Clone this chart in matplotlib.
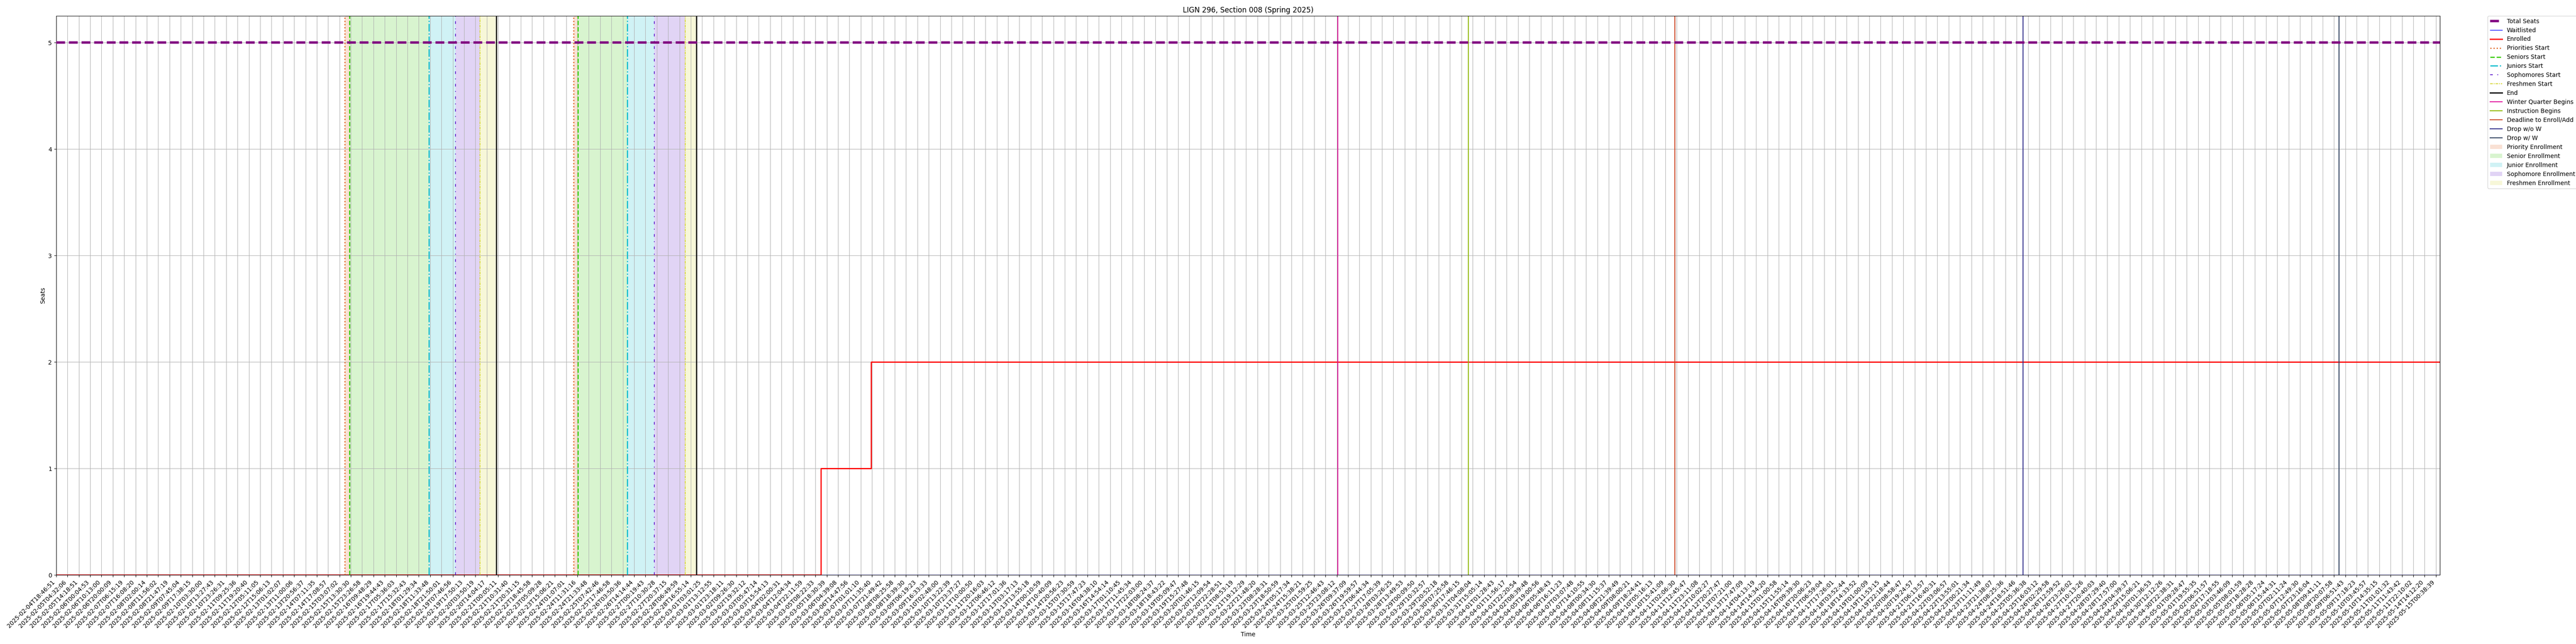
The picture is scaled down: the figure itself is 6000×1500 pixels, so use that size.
import numpy as np
import pandas as pd
import matplotlib
matplotlib.use("Agg")
import matplotlib.pyplot as plt

# sample timestamps shown as x tick labels (one every N scrapes)
tick_labels = [
    "2025-02-04T18:46:51", "2025-02-05T04:32:06", "2025-02-05T14:18:51", "2025-02-06T00:04:53",
    "2025-02-06T10:13:00", "2025-02-06T20:00:09", "2025-02-07T06:15:19", "2025-02-07T16:08:20",
    "2025-02-08T02:00:14", "2025-02-08T11:56:02", "2025-02-08T21:47:19", "2025-02-09T07:45:04",
    "2025-02-09T17:38:15", "2025-02-10T03:30:00", "2025-02-10T13:27:43", "2025-02-10T23:26:31",
    "2025-02-11T09:25:36", "2025-02-11T19:20:40", "2025-02-12T05:11:05", "2025-02-12T15:06:13",
    "2025-02-13T01:02:07", "2025-02-13T11:00:06", "2025-02-13T20:56:37", "2025-02-14T07:11:35",
    "2025-02-14T17:08:57", "2025-02-15T03:07:02", "2025-02-15T13:30:30", "2025-02-15T23:26:58",
    "2025-02-16T09:48:29", "2025-02-16T19:44:43", "2025-02-17T05:36:03", "2025-02-17T15:32:43",
    "2025-02-18T01:29:34", "2025-02-18T11:33:48", "2025-02-18T21:50:01", "2025-02-19T07:46:56",
    "2025-02-19T17:50:13", "2025-02-20T03:50:19", "2025-02-20T14:04:17", "2025-02-21T00:05:11",
    "2025-02-21T10:31:40", "2025-02-21T20:31:15", "2025-02-22T18:45:58", "2025-02-23T05:09:28",
    "2025-02-23T15:06:21", "2025-02-24T01:07:01", "2025-02-24T11:31:16", "2025-02-24T21:33:48",
    "2025-02-25T07:42:46", "2025-02-25T17:46:58", "2025-02-26T03:50:36", "2025-02-26T14:14:44",
    "2025-02-27T00:19:43", "2025-02-27T10:30:28", "2025-02-27T20:37:15", "2025-02-28T06:49:59",
    "2025-02-28T16:55:14", "2025-03-01T03:01:25", "2025-03-01T13:12:55", "2025-03-01T23:18:11",
    "2025-03-02T09:26:30", "2025-03-02T19:32:12", "2025-03-03T05:47:14", "2025-03-03T15:54:13",
    "2025-03-04T02:00:31", "2025-03-04T12:04:34", "2025-03-04T22:11:59", "2025-03-05T08:22:33",
    "2025-03-05T18:30:39", "2025-03-06T04:39:08", "2025-03-06T14:47:56", "2025-03-07T01:01:10",
    "2025-03-07T11:35:40", "2025-03-07T21:49:42", "2025-03-08T08:25:58", "2025-03-08T18:39:30",
    "2025-03-09T06:19:23", "2025-03-09T16:33:33", "2025-03-10T02:48:00", "2025-03-10T13:22:39",
    "2025-03-10T23:37:27", "2025-03-11T10:00:50", "2025-03-11T20:16:03", "2025-03-12T06:46:12",
    "2025-03-12T17:01:36", "2025-03-13T03:17:13", "2025-03-13T13:55:18", "2025-03-14T00:10:59",
    "2025-03-14T10:40:09", "2025-03-14T20:56:23", "2025-03-15T07:30:59", "2025-03-15T17:47:23",
    "2025-03-16T04:38:10", "2025-03-16T14:54:14", "2025-03-17T01:10:45", "2025-03-17T11:45:34",
    "2025-03-17T22:03:00", "2025-03-18T08:24:37", "2025-03-18T18:43:22", "2025-03-19T05:09:47",
    "2025-03-19T15:27:48", "2025-03-20T01:46:15", "2025-03-20T12:09:54", "2025-03-20T22:28:51",
    "2025-03-21T08:53:19", "2025-03-21T19:12:29", "2025-03-22T21:48:20", "2025-03-23T08:28:31",
    "2025-03-23T18:50:59", "2025-03-24T05:17:34", "2025-03-24T15:38:21", "2025-03-25T01:59:25",
    "2025-03-25T12:46:43", "2025-03-25T23:08:12", "2025-03-26T09:37:09", "2025-03-26T19:59:57",
    "2025-03-27T06:44:34", "2025-03-27T17:05:39", "2025-03-28T03:26:25", "2025-03-28T13:49:53",
    "2025-03-29T00:09:50", "2025-03-29T10:32:57", "2025-03-29T20:52:18", "2025-03-30T07:25:58",
    "2025-03-30T17:46:15", "2025-03-31T04:08:04", "2025-03-31T15:05:14", "2025-04-01T01:28:43",
    "2025-04-01T11:56:17", "2025-04-01T22:20:54", "2025-04-02T08:39:48", "2025-04-05T19:00:56",
    "2025-04-06T05:48:43", "2025-04-06T16:11:23", "2025-04-07T03:07:48", "2025-04-07T14:10:55",
    "2025-04-08T00:34:30", "2025-04-08T11:15:37", "2025-04-08T21:39:49", "2025-04-09T08:00:21",
    "2025-04-09T18:24:41", "2025-04-10T05:16:13", "2025-04-10T15:41:09", "2025-04-11T02:06:30",
    "2025-04-11T12:45:47", "2025-04-11T23:11:08", "2025-04-12T10:02:27", "2025-04-12T20:27:47",
    "2025-04-13T07:21:00", "2025-04-13T17:47:09", "2025-04-14T04:13:19", "2025-04-14T14:34:20",
    "2025-04-15T01:00:58", "2025-04-15T11:55:14", "2025-04-16T09:39:30", "2025-04-16T20:06:23",
    "2025-04-17T06:59:04", "2025-04-17T17:26:01", "2025-04-18T03:52:44", "2025-04-18T14:33:52",
    "2025-04-19T01:00:09", "2025-04-19T11:53:15", "2025-04-19T22:18:44", "2025-04-20T08:58:47",
    "2025-04-20T19:24:57", "2025-04-21T06:13:57", "2025-04-21T16:40:31", "2025-04-22T03:06:57",
    "2025-04-22T13:55:01", "2025-04-23T00:21:34", "2025-04-23T11:11:49", "2025-04-23T21:38:07",
    "2025-04-24T08:25:36", "2025-04-24T18:51:46", "2025-04-25T05:36:38", "2025-04-25T16:03:12",
    "2025-04-26T02:29:58", "2025-04-26T12:59:52", "2025-04-26T23:26:02", "2025-04-27T10:13:26",
    "2025-04-27T20:40:03", "2025-04-28T07:29:40", "2025-04-28T17:57:00", "2025-04-29T04:39:37",
    "2025-04-29T15:06:21", "2025-04-30T01:36:53", "2025-04-30T12:12:26", "2025-04-30T22:38:31",
    "2025-05-01T09:28:47", "2025-05-01T19:55:35", "2025-05-02T06:51:57", "2025-05-02T17:18:55",
    "2025-05-03T03:46:09", "2025-05-05T08:01:59", "2025-05-05T18:28:28", "2025-05-06T05:17:24",
    "2025-05-06T15:44:31", "2025-05-07T02:11:24", "2025-05-07T12:49:30", "2025-05-07T23:16:04",
    "2025-05-08T09:41:11", "2025-05-08T20:07:58", "2025-05-09T06:51:43", "2025-05-09T17:18:23",
    "2025-05-10T03:45:57", "2025-05-10T14:35:15", "2025-05-11T01:01:32", "2025-05-11T11:43:42",
    "2025-05-11T22:10:02", "2025-05-14T14:12:20", "2025-05-15T00:38:39",
]
last_sample = "2025-05-15T04:20:00"

total_seats = 5
waitlisted = 0
# enrolled count and the time it changed
enrolled_times = ["2025-02-04T18:46:51", "2025-03-05T13:14:00", "2025-03-07T10:32:00"]
enrolled_counts = [0, 1, 2]

# two enrollment passes
pass_starts = {
    "Priorities Start": ["2025-02-15T07:54", "2025-02-24T08:05"],
    "Seniors Start": ["2025-02-15T12:22", "2025-02-24T11:55"],
    "Juniors Start": ["2025-02-18T10:33", "2025-02-26T08:00"],
    "Sophomores Start": ["2025-02-19T10:11", "2025-02-27T08:28"],
    "Freshmen Start": ["2025-02-20T08:02", "2025-02-28T11:58"],
    "End": ["2025-02-20T22:23", "2025-02-28T21:58"],
}
quarter_events = {
    "Winter Quarter Begins": "2025-03-26T00:11",
    "Instruction Begins": "2025-03-31T00:18",
    "Deadline to Enroll/Add": "2025-04-11T00:33",
    "Drop w/o W": "2025-04-25T00:47",
    "Drop w/ W": "2025-05-09T00:50",
}
period_names = ["Priority Enrollment", "Senior Enrollment", "Junior Enrollment",
                "Sophomore Enrollment", "Freshmen Enrollment"]

start_styles = {
    "Priorities Start": ("#e26b2c", ":", 2),
    "Seniors Start": ("#3ccc12", "--", 2),
    "Juniors Start": ("#17becf", "-.", 2),
    "Sophomores Start": ("#6a2bd0", (0, (3, 5, 1, 5)), 1.5),
    "Freshmen Start": ("#d8d840", (0, (3, 1, 1, 1)), 1.5),
    "End": ("black", "-", 2),
}
event_colors = {
    "Winter Quarter Begins": "#e0109a",
    "Instruction Begins": "#8db600",
    "Deadline to Enroll/Add": "#cc4422",
    "Drop w/o W": "#2e2a8a",
    "Drop w/ W": "#2c3e5c",
}
period_colors = ["#e26b2c", "#3ccc12", "#17becf", "#6a2bd0", "#d8d840"]

# x axis is sample order, ticks every N samples -> map times onto that index
tick_s = pd.to_datetime(tick_labels).astype("int64").to_numpy() / 1e9
tick_idx = np.arange(len(tick_labels), dtype=float)


def to_pos(t):
    s = pd.Timestamp(t).value / 1e9
    if s <= tick_s[-1]:
        return float(np.interp(s, tick_s, tick_idx))
    return tick_idx[-1] + (s - tick_s[-1]) / (tick_s[-1] - tick_s[-2])


x_end = to_pos(last_sample)

fig, ax = plt.subplots(figsize=(60, 15), dpi=100)
fig.subplots_adjust(left=0.0218, right=0.9472, top=0.9753, bottom=0.1073)

# shaded periods between consecutive starts
keys = list(pass_starts.keys())
for p in range(2):
    for i, name in enumerate(period_names):
        a = to_pos(pass_starts[keys[i]][p])
        b = to_pos(pass_starts[keys[i + 1]][p])
        ax.axvspan(a, b, color=period_colors[i], alpha=0.2, lw=0,
                   label=name if p == 0 else None)

ax.plot([0, x_end], [total_seats, total_seats], color="purple", ls="--", lw=4,
        label="Total Seats", zorder=4)
ax.plot([0, x_end], [waitlisted, waitlisted], color="blue", lw=1, label="Waitlisted")
ex = [to_pos(t) for t in enrolled_times] + [x_end]
ey = enrolled_counts + [enrolled_counts[-1]]
ax.plot(ex, ey, color="red", lw=2, drawstyle="steps-post", label="Enrolled")

for name, times in pass_starts.items():
    c, ls, lw = start_styles[name]
    for p, t in enumerate(times):
        ax.axvline(to_pos(t), color=c, ls=ls, lw=lw, label=name if p == 0 else None)

for name, t in quarter_events.items():
    ax.axvline(to_pos(t), color=event_colors[name], lw=1.5, label=name)

ax.set_xticks(tick_idx)
ax.set_xticklabels(tick_labels, rotation=45, ha="right")
ax.set_xlim(0, x_end)
ax.set_ylim(0, 5.25)
ax.grid(True)
ax.set_xlabel("Time")
ax.set_ylabel("Seats")
ax.set_title("LIGN 296, Section 008 (Spring 2025)")

h, l = ax.get_legend_handles_labels()
order = ["Total Seats", "Waitlisted", "Enrolled"] + keys + list(quarter_events.keys()) + period_names
hmap = dict(zip(l, h))
ax.legend([hmap[k] for k in order], order, bbox_to_anchor=(1.02, 1), loc="upper left",
          borderaxespad=0)

fig.savefig("out.png", dpi=100)
